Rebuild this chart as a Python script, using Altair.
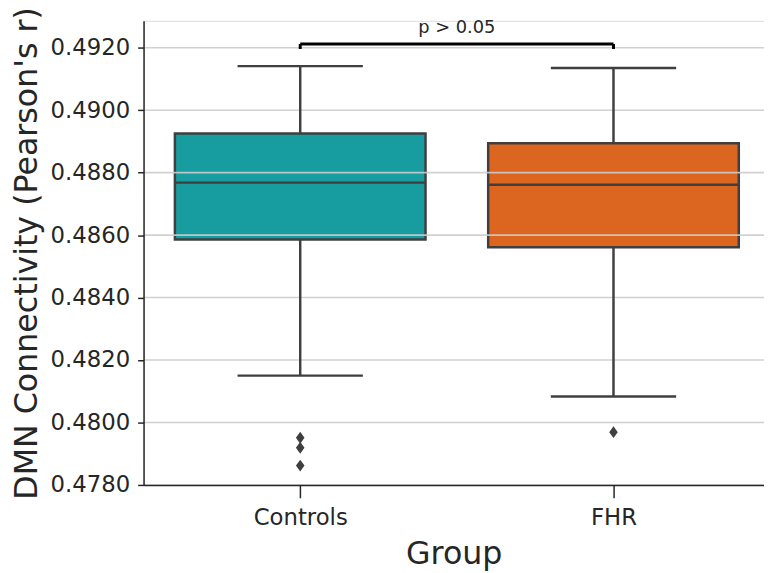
import json
import altair as alt
import pandas as pd

# ---- data ----
groups = ["Controls", "FHR"]
whisker_low = [0.48150, 0.48083]
q1 = [0.48586, 0.48561]
median = [0.48768, 0.48761]
q3 = [0.48925, 0.48894]
whisker_high = [0.49141, 0.49135]
outlier_group = ["Controls", "Controls", "Controls", "FHR"]
outlier_value = [0.47951, 0.47919, 0.47862, 0.47969]
box_colors = ["#179da0", "#dc6620"]
y_ticks = [0.4780, 0.4800, 0.4820, 0.4840, 0.4860, 0.4880, 0.4900, 0.4920]
y_domain = [0.4780, 0.49286]
bracket_pair = ["Controls", "FHR"]
bracket_top = 0.49212
bracket_leg = 0.49196
bracket_label = "p > 0.05"

# ---- layout / style ----
W, H = 627, 469
FONT = "DejaVu Sans"
TXT = "#262626"
EDGE = "#3f3f3f"
x_domain = [-0.5, -0.5 + W / 316.6]

idx = {g: i for i, g in enumerate(groups)}
box = pd.DataFrame({
    "group": groups, "idx": [idx[g] for g in groups],
    "low": whisker_low, "q1": q1, "med": median, "q3": q3, "high": whisker_high,
})
whisk = pd.DataFrame({
    "idx": [idx[g] for g in groups] * 2,
    "a": whisker_low + q3,
    "b": q1 + whisker_high,
})
caps = pd.DataFrame({
    "idx": [idx[g] for g in groups] * 2,
    "v": whisker_low + whisker_high,
})
outl = pd.DataFrame({"idx": [idx[g] for g in outlier_group], "v": outlier_value})
grid = pd.DataFrame({"t": y_ticks})
br = pd.DataFrame({"idx": [idx[g] for g in bracket_pair]})
br_h = pd.DataFrame({"a": [idx[bracket_pair[0]]], "b": [idx[bracket_pair[1]]],
                     "mid": [(idx[bracket_pair[0]] + idx[bracket_pair[1]]) / 2],
                     "label": [bracket_label]})

xscale = alt.Scale(domain=x_domain, nice=False, zero=False)
yscale = alt.Scale(domain=y_domain, nice=False, zero=False)

xaxis = alt.Axis(
    values=[i for i in range(len(groups))],
    labelExpr=json.dumps(groups).replace('"', "'") + "[datum.value]",
    title="Group", grid=False, domainColor=TXT, domainWidth=1.5,
    tickColor=TXT, tickWidth=1.5, tickSize=13, zindex=1,
    labelFont=FONT, labelFontSize=23, labelColor=TXT, labelPadding=9,
    titleFont=FONT, titleFontSize=32, titleFontWeight="normal", titleColor=TXT,
    titlePadding=9,
)
yaxis = alt.Axis(
    values=y_ticks, format=".4f", title="DMN Connectivity (Pearson's r)",
    grid=False, domainColor=TXT, domainWidth=1.5, tickColor=TXT, tickWidth=1.5,
    tickSize=6, zindex=1, labelFont=FONT, labelFontSize=23, labelColor=TXT,
    labelPadding=8, titleFont=FONT, titleFontSize=32, titleFontWeight="normal",
    titleColor=TXT, titlePadding=7,
)


def X(f):
    return alt.X(f, type="quantitative", scale=xscale, axis=xaxis)


def Y(f):
    return alt.Y(f, type="quantitative", scale=yscale, axis=yaxis)


boxes = alt.Chart(box).transform_calculate(
    l="datum.idx - 0.4", r="datum.idx + 0.4"
).mark_rect(stroke=EDGE, strokeWidth=2.5).encode(
    x=X("l"), x2="r:Q", y=Y("q1"), y2="q3:Q",
    fill=alt.Color("group:N", scale=alt.Scale(domain=groups, range=box_colors), legend=None),
)

gridlines = alt.Chart(grid).mark_rule(color="#cccccc", strokeWidth=1.6, opacity=0.9).encode(
    y=Y("t"), x=alt.value(0), x2=alt.value(W),
)

whiskers = alt.Chart(whisk).mark_rule(color=EDGE, strokeWidth=2.5).encode(
    x=X("idx"), y=Y("a"), y2="b:Q",
)

capl = alt.Chart(caps).transform_calculate(
    l="datum.idx - 0.2", r="datum.idx + 0.2"
).mark_rule(color=EDGE, strokeWidth=2.5).encode(
    x=X("l"), x2="r:Q", y=Y("v"),
)

medians = alt.Chart(box).transform_calculate(
    l="datum.idx - 0.4", r="datum.idx + 0.4"
).mark_rule(color=EDGE, strokeWidth=2.5).encode(
    x=X("l"), x2="r:Q", y=Y("med"),
)

points = alt.Chart(outl).mark_point(
    shape="M0,-1L0.72,0L0,1L-0.72,0Z", size=144, filled=True, color=EDGE, opacity=1,
).encode(x=X("idx"), y=Y("v"))

legs = alt.Chart(br).mark_rule(color="black", strokeWidth=3).encode(
    x=X("idx"), y=alt.Y("lo:Q", scale=yscale, axis=yaxis), y2="hi:Q",
).transform_calculate(lo=str(bracket_leg), hi=str(bracket_top))

top = alt.Chart(br_h).transform_calculate(yv=str(bracket_top)).mark_rule(
    color="black", strokeWidth=3).encode(x=X("a"), x2="b:Q", y=Y("yv"))

label = alt.Chart(br_h).transform_calculate(yv=str(bracket_top)).mark_text(
    font=FONT, fontSize=18, color=TXT, baseline="alphabetic", align="center", dy=-11,
).encode(x=X("mid"), y=Y("yv"), text="label:N")

chart = alt.layer(
    boxes, gridlines, whiskers, capl, medians, points, legs, top, label
).properties(
    width=W, height=H,
    padding={"left": 137, "top": 10, "right": 0, "bottom": 86},
    autosize=alt.AutoSizeParams(type="none"),
).configure_view(stroke=None).configure(background="white")

chart.save("out.html", embed_options={"renderer": "svg", "actions": False})
